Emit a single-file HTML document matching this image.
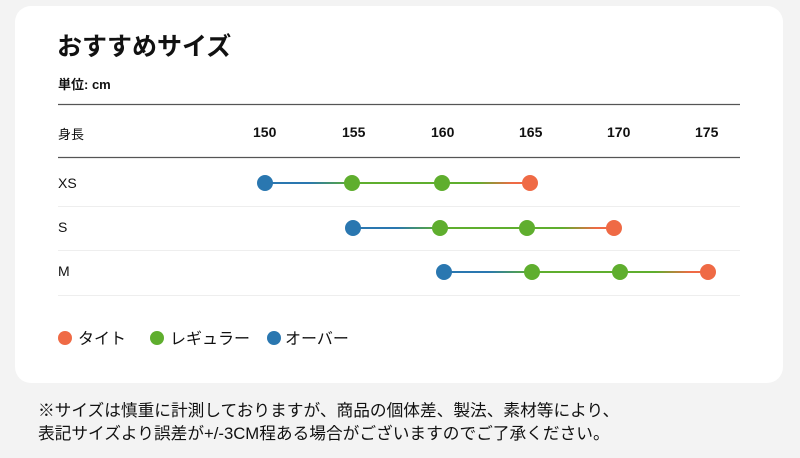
<!DOCTYPE html>
<html><head><meta charset="utf-8"><style>
body{margin:0;width:800px;height:458px;background:#f3f3f3;font-family:"Liberation Sans","Noto Sans CJK JP",sans-serif;position:relative;overflow:hidden;color:#111}
.card{position:absolute;left:15px;top:6px;width:768px;height:377px;background:#fff;border-radius:16px}
.t{position:absolute;white-space:nowrap}
</style></head><body>
<div class="card"></div>
<div class="t" style="left:57px;top:27px;font-size:25px;font-weight:bold">おすすめサイズ</div>
<div class="t" style="left:58px;top:74px;font-size:13px;font-weight:bold">単位: cm</div>
<div class="t" style="left:58px;top:124px;font-size:13px">身長</div>
<div class="t" style="left:58px;top:175px;font-size:14px;font-weight:500">XS</div>
<div class="t" style="left:58px;top:219px;font-size:14px">S</div>
<div class="t" style="left:58px;top:263px;font-size:14px">M</div>
<div class="t" style="left:253px;top:124px;font-size:14px;font-weight:bold">150</div>
<div class="t" style="left:342px;top:124px;font-size:14px;font-weight:bold">155</div>
<div class="t" style="left:431px;top:124px;font-size:14px;font-weight:bold">160</div>
<div class="t" style="left:519px;top:124px;font-size:14px;font-weight:bold">165</div>
<div class="t" style="left:607px;top:124px;font-size:14px;font-weight:bold">170</div>
<div class="t" style="left:695px;top:124px;font-size:14px;font-weight:bold">175</div>
<svg style="position:absolute;left:0;top:0" width="800" height="458">
<defs>
<linearGradient id="bg" x1="0" x2="1"><stop offset="0.5" stop-color="#2a77b0"/><stop offset="1" stop-color="#5fae2e"/></linearGradient>
<linearGradient id="go" x1="0" x2="1"><stop offset="0.4" stop-color="#5fae2e"/><stop offset="0.8" stop-color="#ef6a45"/></linearGradient>
</defs>
<line x1="58" y1="104.5" x2="740" y2="104.5" stroke="#555" stroke-width="1.2"/>
<line x1="58" y1="157.5" x2="740" y2="157.5" stroke="#555" stroke-width="1.2"/>
<line x1="58" y1="206.5" x2="740" y2="206.5" stroke="#eee"/>
<line x1="58" y1="250.5" x2="740" y2="250.5" stroke="#eee"/>
<line x1="58" y1="295.5" x2="740" y2="295.5" stroke="#eee"/>
<g>
<rect x="265" y="182" width="87" height="2" fill="url(#bg)"/><rect x="352" y="182" width="90" height="2" fill="#5fae2e"/><rect x="442" y="182" width="88" height="2" fill="url(#go)"/>
<rect x="353" y="227" width="87" height="2" fill="url(#bg)"/><rect x="440" y="227" width="87" height="2" fill="#5fae2e"/><rect x="527" y="227" width="87" height="2" fill="url(#go)"/>
<rect x="444" y="271" width="88" height="2" fill="url(#bg)"/><rect x="532" y="271" width="88" height="2" fill="#5fae2e"/><rect x="620" y="271" width="88" height="2" fill="url(#go)"/>
</g>
<g>
<circle cx="265" cy="183" r="8" fill="#2a77b0"/><circle cx="352" cy="183" r="8" fill="#5fae2e"/><circle cx="442" cy="183" r="8" fill="#5fae2e"/><circle cx="530" cy="183" r="8" fill="#ef6a45"/>
<circle cx="353" cy="228" r="8" fill="#2a77b0"/><circle cx="440" cy="228" r="8" fill="#5fae2e"/><circle cx="527" cy="228" r="8" fill="#5fae2e"/><circle cx="614" cy="228" r="8" fill="#ef6a45"/>
<circle cx="444" cy="272" r="8" fill="#2a77b0"/><circle cx="532" cy="272" r="8" fill="#5fae2e"/><circle cx="620" cy="272" r="8" fill="#5fae2e"/><circle cx="708" cy="272" r="8" fill="#ef6a45"/>
<circle cx="65" cy="338" r="7" fill="#ef6a45"/><circle cx="157" cy="338" r="7" fill="#5fae2e"/><circle cx="274" cy="338" r="7" fill="#2a77b0"/>
</g>
</svg>
<div class="t" style="left:78px;top:325px;font-size:16px">タイト</div>
<div class="t" style="left:170px;top:325px;font-size:16px">レギュラー</div>
<div class="t" style="left:285px;top:325px;font-size:16px">オーバー</div>
<div class="t" style="left:38px;top:399px;font-size:16.7px;line-height:23px;color:#111">※サイズは慎重に計測しておりますが、商品の個体差、製法、素材等により、<br>表記サイズより誤差が+/-3CM程ある場合がございますのでご了承ください。</div>
</body></html>
